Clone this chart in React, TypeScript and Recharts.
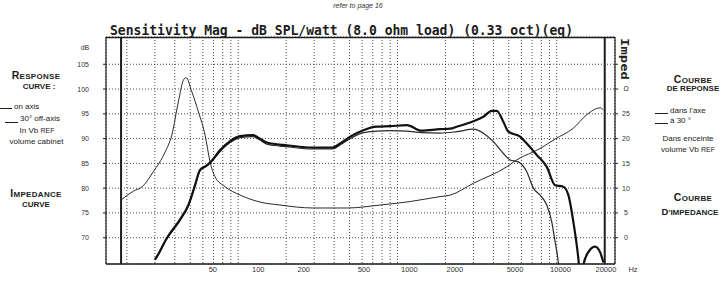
import React from 'react';
import { LineChart, Line, XAxis, YAxis, CartesianGrid, ReferenceLine } from 'recharts';

// ---- data ----
const onAxisFreq = [30, 31, 35.6, 43, 48.7, 53.6, 57.6, 63, 68, 77, 89, 103, 124, 137, 151, 183, 197, 294, 392, 436, 504, 611, 741, 898, 1144, 1420, 1850, 2140, 2356, 2995, 3461, 3906, 4200, 4620, 4968, 5884, 6482, 7487, 8652, 9756, 11000, 11830, 12710, 13660, 14200, 14690, 15790, 17390, 18700, 19614];
const onAxisDb = [65.6, 66.3, 69.9, 73.6, 76.6, 80.6, 83.7, 84.5, 85.5, 87.7, 89.5, 90.5, 90.7, 90.0, 89.2, 88.8, 88.7, 88.2, 88.2, 89.0, 90.4, 91.7, 92.4, 92.5, 92.7, 91.6, 91.9, 92.0, 92.4, 93.5, 94.4, 95.6, 95.6, 93.4, 91.4, 90.4, 89.0, 86.7, 84.3, 80.6, 80.3, 78.6, 73.2, 65.8, 60, 64.5, 67.1, 68.2, 67.1, 65.0];

const offAxisFreq = [30, 31, 35.6, 43, 48.7, 53.6, 57.6, 63, 68, 77, 89, 103, 124, 137, 151, 183, 197, 294, 392, 436, 504, 611, 741, 898, 1144, 1420, 1850, 2356, 2995, 3461, 4000, 4620, 5090, 5740, 6480, 7130, 7855, 8650, 9300, 9756, 10083, 10500];
const offAxisDb = [65.5, 66.2, 69.7, 73.4, 76.4, 80.4, 83.5, 84.4, 85.3, 87.4, 89.2, 90.2, 90.4, 89.7, 88.9, 88.5, 88.4, 87.9, 87.9, 88.7, 90.0, 91.2, 91.5, 91.6, 91.5, 91.2, 91.1, 91.4, 91.9, 91.1, 89.4, 87.0, 85.7, 85.3, 83.3, 80.0, 78.6, 76.6, 73.2, 69.2, 66.5, 62];

const impedanceFreq = [18.4, 22, 25, 29.3, 34.8, 38.3, 42.1, 45.3, 47.1, 51.1, 56.3, 62, 66.6, 71.6, 82.7, 103, 137, 183, 294, 487, 778, 1200, 1850, 2140, 3000, 4850, 5600, 7850, 9750, 12700, 15400, 18700, 19600];
const impedanceOhm = [7.6, 9.4, 10.3, 13.3, 17.3, 20.7, 27.4, 31.8, 32.3, 29.5, 25.4, 20.7, 15.3, 12.3, 10.3, 8.6, 7.2, 6.6, 6.0, 6.0, 6.6, 7.3, 8.3, 8.6, 11.0, 14.3, 15.7, 18.0, 19.9, 22.1, 24.8, 26.2, 25.8];

const gridFreqs = [20, 30, 40, 50, 60, 70, 80, 90, 100, 200, 300, 400, 500, 600, 700, 800, 900, 1000, 2000, 3000, 4000, 5000, 6000, 7000, 8000, 9000, 10000];
const freqTickLabels = [50, 100, 200, 500, 1000, 2000, 5000, 10000, 20000];
const dbTicks = [70, 75, 80, 85, 90, 95, 100, 105];
const ohmTicks = [0, 5, 10, 15, 20, 25, 30, 35];

const zip = (fs: number[], vs: number[]) => fs.map((f, i) => ({ f, v: vs[i] }));
const onAxisData = zip(onAxisFreq, onAxisDb);
const offAxisData = zip(offAxisFreq, offAxisDb);
const impedanceData = zip(impedanceFreq, impedanceOhm);

const SANS = '"Liberation Sans", Arial, Helvetica, sans-serif';
const MONO = '"DejaVu Sans Mono", "Liberation Mono", monospace';
const INK = '#1c1c1c';

const EmptyTick = () => <g />;

const FreqTick = (props: any) => {
  const { x, y, payload } = props;
  return (
    <g>
      <text x={x} y={y} dy="0.71em" textAnchor="middle" fontSize={7.5} fill="#333" fontFamily={SANS}>
        {payload.value}
      </text>
      {payload.value === 20000 && (
        <text x={x + 27} y={y} dy="0.71em" textAnchor="middle" fontSize={7.5} fill="#333" fontFamily={SANS}>
          Hz
        </text>
      )}
    </g>
  );
};

const OhmTick = (props: any) => {
  const { x, y, payload } = props;
  const v = payload.value;
  const label = v === 30 ? 'Ω' : v === 35 ? '' : String(v);
  return (
    <text x={x} y={y} dy="0.35em" textAnchor="middle" fontSize={7} fill="#333" fontFamily={SANS}>
      {label}
    </text>
  );
};

const abs = (top: number, left: number, extra: React.CSSProperties = {}): React.CSSProperties => ({
  position: 'absolute',
  top,
  left,
  fontFamily: SANS,
  color: INK,
  whiteSpace: 'nowrap',
  lineHeight: 1,
  ...extra,
});

const Centered = ({ cx, cy, children, size = 8, bold = false }: any) => (
  <div
    style={abs(cy - size / 2 - 1, cx - 60, {
      width: 120,
      textAlign: 'center',
      fontSize: size,
      fontWeight: bold ? 700 : 400,
    })}
  >
    {children}
  </div>
);

const Heading = ({ cx, cy, big, rest }: any) => (
  <div
    style={abs(cy - 6, cx - 60, {
      width: 120,
      textAlign: 'center',
      fontWeight: 700,
      letterSpacing: 0.3,
    })}
  >
    <span style={{ fontSize: 10.5 }}>{big}</span>
    <span style={{ fontSize: 8 }}>{rest}</span>
  </div>
);

export default function App() {
  return (
    <div style={{ position: 'relative', width: 721, height: 284, background: '#fff', overflow: 'hidden' }}>
      <style>{'body{margin:0}'}</style>
      <LineChart width={721} height={284} margin={{ top: 37, right: 0, left: 0, bottom: 6 }}>
        <CartesianGrid
          xAxisId="f"
          yAxisId="db"
          stroke="#333"
          strokeDasharray="1 2"
          strokeWidth={0.9}
        />
        <XAxis
          xAxisId="f"
          dataKey="f"
          type="number"
          scale="log"
          domain={[14.8, 23200]}
          allowDataOverflow
          ticks={gridFreqs}
          interval={0}
          minTickGap={0}
          tick={<EmptyTick />}
          tickLine={false}
          axisLine={false}
          height={0}
        />
        <XAxis
          xAxisId="labels"
          dataKey="f"
          type="number"
          scale="log"
          domain={[9.82, 22950]}
          allowDataOverflow
          ticks={freqTickLabels}
          interval={0}
          tick={<FreqTick />}
          tickLine={false}
          tickSize={0}
          tickMargin={3}
          axisLine={{ stroke: INK, strokeWidth: 1.5 }}
          height={14}
        />
        <YAxis
          yAxisId="db"
          orientation="left"
          type="number"
          domain={[64.7, 110.5]}
          allowDataOverflow
          ticks={dbTicks}
          interval={0}
          width={106}
          tickSize={3}
          tickMargin={14}
          tick={{ fontSize: 7, fill: '#333', fontFamily: SANS }}
          tickLine={{ stroke: INK }}
          axisLine={{ stroke: INK, strokeWidth: 1.2 }}
        />
        <YAxis
          yAxisId="ohm"
          orientation="right"
          type="number"
          domain={[-5.3, 40.5]}
          allowDataOverflow
          ticks={ohmTicks}
          interval={0}
          width={106}
          tickSize={3}
          tickMargin={8}
          tick={<OhmTick />}
          tickLine={{ stroke: INK }}
          axisLine={{ stroke: INK, strokeWidth: 1.2 }}
        />
        <ReferenceLine xAxisId="f" yAxisId="db" y={110.4} stroke={INK} strokeWidth={1.5} />
        <ReferenceLine xAxisId="f" yAxisId="db" x={18.4} stroke={INK} strokeWidth={2} />
        <ReferenceLine xAxisId="f" yAxisId="db" x={20000} stroke={INK} strokeWidth={2} />
        <Line
          data={impedanceData}
          xAxisId="f"
          yAxisId="ohm"
          dataKey="v"
          type="monotone"
          stroke="#2a2a2a"
          strokeWidth={1}
          dot={false}
          activeDot={false}
          isAnimationActive={false}
        />
        <Line
          data={offAxisData}
          xAxisId="f"
          yAxisId="db"
          dataKey="v"
          type="monotone"
          stroke="#2a2a2a"
          strokeWidth={1.2}
          dot={false}
          activeDot={false}
          isAnimationActive={false}
        />
        <Line
          data={onAxisData}
          xAxisId="f"
          yAxisId="db"
          dataKey="v"
          type="monotone"
          stroke="#111"
          strokeWidth={2.2}
          dot={false}
          activeDot={false}
          isAnimationActive={false}
        />
      </LineChart>

      <svg width={721} height={284} style={{ position: 'absolute', top: 0, left: 0, pointerEvents: 'none' }}>
        <text x={358} y={8} textAnchor="middle" fontSize={7} fontStyle="italic" fill="#333" fontFamily={SANS}>
          refer to page 16
        </text>
        <text
          x={110}
          y={34.5}
          fontFamily={MONO}
          fontWeight="bold"
          fontSize={14}
          fill={INK}
          textLength={463}
          lengthAdjust="spacingAndGlyphs"
        >
          Sensitivity Mag - dB SPL/watt (8.0 ohm load) (0.33 oct)(eq)
        </text>
        <text x={85} y={50} textAnchor="middle" fontSize={7} fill="#333" fontFamily={SANS}>
          dB
        </text>
        <text
          transform="translate(620.5,38) rotate(90)"
          fontFamily={MONO}
          fontWeight="bold"
          fontSize={11}
          fill={INK}
          textLength={42}
          lengthAdjust="spacingAndGlyphs"
        >
          Imped
        </text>
      </svg>

      {/* left annotations */}
      <Heading cx={36} cy={72} big="R" rest="ESPONSE" />
      <Centered cx={39} cy={88} size={8} bold>CURVE :</Centered>
      <div style={abs(107.5, 0, { width: 12, height: 0, borderTop: `1.6px solid ${INK}` })} />
      <div style={abs(103, 14, { fontSize: 8 })}>on axis</div>
      <div style={abs(121.5, 5, { width: 13, height: 0, borderTop: `1px solid ${INK}` })} />
      <div style={abs(115, 20, { fontSize: 8 })}>30° off-axis</div>
      <Centered cx={37} cy={132} size={8}>
        In Vb <span style={{ fontSize: 7 }}>REF</span>
      </Centered>
      <Centered cx={36.5} cy={143} size={8}>volume cabinet</Centered>
      <Heading cx={36} cy={190} big="I" rest="MPEDANCE" />
      <Centered cx={36} cy={206} size={8} bold>CURVE</Centered>

      {/* right annotations */}
      <Heading cx={693} cy={76} big="C" rest="OURBE" />
      <Centered cx={693} cy={90} size={8} bold>DE REPONSE</Centered>
      <div style={abs(113, 655, { width: 13, height: 0, borderTop: `1.6px solid ${INK}` })} />
      <div style={abs(107, 670, { fontSize: 8 })}>dans l'axe</div>
      <div style={abs(123, 655, { width: 13, height: 0, borderTop: `1.3px solid ${INK}` })} />
      <div style={abs(117, 670, { fontSize: 8 })}>à 30 °</div>
      <Centered cx={688} cy={140} size={8}>Dans enceinte</Centered>
      <Centered cx={688} cy={151} size={8}>
        volume Vb <span style={{ fontSize: 7 }}>REF</span>
      </Centered>
      <Heading cx={693} cy={194} big="C" rest="OURBE" />
      <Centered cx={690} cy={212} size={8} bold>
        <span style={{ fontSize: 9.5 }}>D</span>'IMPEDANCE
      </Centered>
    </div>
  );
}
